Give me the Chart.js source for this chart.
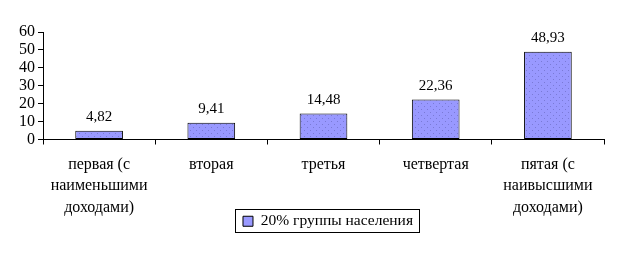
<!DOCTYPE html>
<html>
<head>
<meta charset="utf-8">
<script src="https://cdn.jsdelivr.net/npm/chart.js@4.4.1/dist/chart.umd.min.js"></script>
<style>
  html, body { margin: 0; padding: 0; background: #fff; }
  .chart-container { position: relative; width: 621px; height: 260px; }
</style>
</head>
<body>
<div class="chart-container"><canvas id="incomeChart"></canvas></div>
<script>
const categories = [
    ['первая (с', 'наименьшими', 'доходами)'],
    'вторая',
    'третья',
    'четвертая',
    ['пятая (с', 'наивысшими', 'доходами)']
];
const shares = [4.82, 9.41, 14.48, 22.36, 48.93];
const seriesName = '20% группы населения';
const yTicks = [0, 10, 20, 30, 40, 50, 60];

const SERIF = '"Liberation Serif", "Times New Roman", serif';

// dotted lavender fill like the original
function makePattern() {
    const c = document.createElement('canvas');
    c.width = 6;
    c.height = 6;
    const p = c.getContext('2d');
    p.fillStyle = '#9999ff';
    p.fillRect(0, 0, 6, 6);
    p.fillStyle = '#7a7ad6';
    p.fillRect(1, 1, 1, 1);
    p.fillRect(4, 4, 1, 1);
    return p.createPattern(c, 'repeat');
}

const valueLabels = {
    id: 'valueLabels',
    afterDatasetsDraw(chart) {
        const ctx = chart.ctx;
        const meta = chart.getDatasetMeta(0);
        ctx.save();
        ctx.font = '15px ' + SERIF;
        ctx.fillStyle = '#000';
        ctx.textAlign = 'center';
        ctx.textBaseline = 'bottom';
        meta.data.forEach((bar, i) => {
            const txt = shares[i].toFixed(2).replace('.', ',');
            ctx.fillText(txt, bar.x, bar.y - 6);
        });
        ctx.restore();
    }
};

// the legend sits a bit higher (next to the last label line) and is framed
const legendFrame = {
    id: 'legendFrame',
    afterLayout(chart) {
        const lg = chart.legend;
        lg.top -= 12;
        lg.bottom -= 12;
        lg.left += 26;
        lg.right += 26;
    },
    afterDraw(chart) {
        const hit = chart.legend.legendHitBoxes[0];
        if (!hit) return;
        const ctx = chart.ctx;
        ctx.save();
        ctx.strokeStyle = '#000';
        ctx.lineWidth = 1;
        ctx.strokeRect(Math.round(hit.left) - 7.5, Math.round(hit.top) - 4.5,
                       Math.round(hit.width) + 14, Math.round(hit.height) + 7);
        ctx.restore();
    }
};

document.addEventListener('DOMContentLoaded', () => {
    const ctx = document.getElementById('incomeChart').getContext('2d');
    new Chart(ctx, {
        type: 'bar',
        data: {
            labels: categories,
            datasets: [{
                label: seriesName,
                data: shares,
                backgroundColor: makePattern(),
                borderColor: '#000',
                borderWidth: 1,
                borderSkipped: false,
                barPercentage: 0.85,
                categoryPercentage: 0.5
            }]
        },
        options: {
            responsive: true,
            maintainAspectRatio: false,
            animation: false,
            layout: { padding: { top: 32, right: 17, left: 0, bottom: 9 } },
            scales: {
                x: {
                    grid: {
                        drawOnChartArea: false,
                        drawTicks: true,
                        tickLength: 5,
                        color: '#000',
                        offset: true
                    },
                    border: { color: '#000' },
                    ticks: {
                        color: '#000',
                        maxRotation: 0,
                        autoSkip: false,
                        padding: 10,
                        font: { family: SERIF, size: 16, lineHeight: 1.32 }
                    },
                    afterFit: (scale) => { scale.height = 80; }
                },
                y: {
                    min: 0,
                    max: 60,
                    afterBuildTicks: (scale) => { scale.ticks = yTicks.map(v => ({ value: v })); },
                    grid: {
                        drawOnChartArea: false,
                        drawTicks: true,
                        tickLength: 5,
                        color: '#000'
                    },
                    border: { color: '#000' },
                    ticks: {
                        color: '#000',
                        autoSkip: false,
                        padding: 3,
                        font: { family: SERIF, size: 16 }
                    },
                    afterFit: (scale) => { scale.width = 43; }
                }
            },
            plugins: {
                legend: {
                    position: 'bottom',
                    labels: {
                        color: '#000',
                        boxWidth: 10,
                        boxHeight: 10,
                        padding: 6,
                        font: { family: SERIF, size: 15.5 },
                        generateLabels: () => [{
                            text: seriesName,
                            fillStyle: '#9999ff',
                            strokeStyle: '#000',
                            lineWidth: 1,
                            datasetIndex: 0
                        }]
                    }
                },
                tooltip: { enabled: false }
            }
        },
        plugins: [valueLabels, legendFrame]
    });
});
</script>
</body>
</html>
